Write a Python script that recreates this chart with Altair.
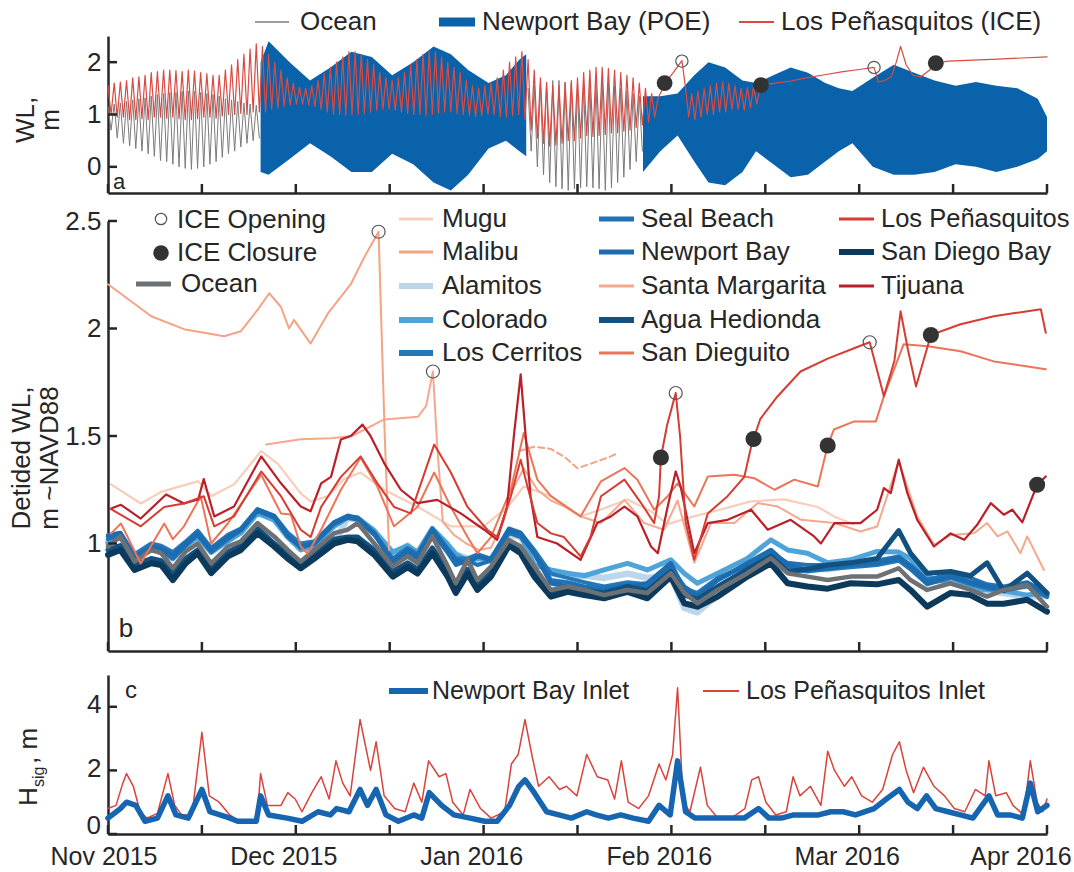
import altair as alt
import pandas as pd

FONT = "Liberation Sans"
INK = "#262626"
W = 939
HA, HB, HC = 157, 430, 159

# ---------------- shared time axis (days since 1 Nov 2015) ----------------
TICK_DAYS = [0, 15.2, 30.4, 45.6, 60.8, 76.0, 91.2, 106.4, 121.6, 136.8, 152]
MONTH_DAYS = [0, 30.4, 60.8, 91.2, 121.6, 152]
MONTH_LABELS = ["Nov 2015", "Dec 2015", "Jan 2016", "Feb 2016", "Mar 2016", "Apr 2016"]

# ---------------- panel a : raw water levels ----------------
OCEAN_A1_DAYS = list(range(0, 25))
OCEAN_A1_HI = [1.15, 1.2, 1.22, 1.25, 1.28, 1.3, 1.32, 1.35, 1.38, 1.4, 1.42, 1.42, 1.44,
               1.45, 1.44, 1.42, 1.4, 1.38, 1.35, 1.3, 1.28, 1.25, 1.22, 1.2, 1.18]
OCEAN_A1_LO = [0.7, 0.55, 0.45, 0.4, 0.35, 0.3, 0.25, 0.2, 0.12, 0.1, 0.05, 0.0, -0.03,
               -0.05, -0.03, 0.0, 0.05, 0.1, 0.18, 0.25, 0.3, 0.38, 0.45, 0.5, 0.55]
OCEAN_A2_DAYS = list(range(68, 87))
OCEAN_A2_HI = [1.5, 1.55, 1.6, 1.62, 1.65, 1.65, 1.62, 1.6, 1.55, 1.55, 1.58, 1.6, 1.62,
               1.6, 1.55, 1.5, 1.45, 1.4, 1.35]
OCEAN_A2_LO = [0.3, 0.0, -0.15, -0.3, -0.38, -0.42, -0.45, -0.42, -0.4, -0.38, -0.4, -0.42,
               -0.45, -0.4, -0.3, -0.2, -0.05, 0.1, 0.3]

NB_A1_DAYS = [24.7, 26.0, 29.4, 32.7, 36.0, 39.4, 42.7, 46.0, 49.4, 52.7, 55.5, 58.3, 61.6, 64.4, 66.6, 67.7]
NB_A1_HI = [2.0, 2.4, 2.0, 1.65, 1.9, 2.2, 2.1, 1.75, 2.0, 2.3, 2.15, 1.85, 1.6, 1.75, 2.05, 2.15]
NB_A1_LO = [-0.1, -0.15, 0.15, 0.45, 0.2, -0.1, -0.1, 0.25, 0.05, -0.3, -0.45, -0.15, 0.35, 0.5, 0.3, 0.2]
NB_A2_DAYS = [86.6, 89.4, 92.2, 94.9, 97.2, 99.9, 102.7, 104.9, 107.7, 110.5, 113.3, 116.1,
              118.3, 120.5, 123.8, 127.2, 130.5, 133.8, 137.2, 140.5, 143.8, 147.2, 150.5, 152]
NB_A2_HI = [1.35, 1.35, 1.4, 1.75, 2.0, 1.9, 1.65, 1.6, 1.75, 1.9, 1.8, 1.6, 1.5, 1.45, 1.7,
            1.95, 1.8, 1.65, 1.55, 1.62, 1.55, 1.5, 1.3, 0.95]
NB_A2_LO = [-0.1, 0.3, 0.6, 0.1, -0.3, -0.35, -0.1, 0.3, 0.05, -0.2, -0.15, 0.1, 0.3, 0.45,
            0.0, -0.15, -0.15, -0.1, 0.05, 0.0, -0.1, 0.0, 0.15, 0.3]

LP_A_OSC1_DAYS = list(range(0, 89))
LP_A_OSC1_HI = [1.55, 1.6, 1.62, 1.65, 1.7, 1.72, 1.75, 1.8, 1.82, 1.85,
                1.85, 1.84, 1.82, 1.85, 1.83, 1.8, 1.78, 1.75, 1.75, 1.85,
                1.95, 2.05, 2.15, 2.25, 2.35, 2.3, 2.15, 2.0, 1.85, 1.7,
                1.6, 1.52, 1.5, 1.55, 1.65, 1.78, 1.9, 2.0, 2.1, 2.2,
                2.2, 2.15, 2.05, 1.95, 1.8, 1.7, 1.65, 1.7, 1.8, 1.95,
                2.05, 2.15, 2.2, 2.2, 2.1, 2.0, 1.9, 1.8, 1.65, 1.55,
                1.5, 1.55, 1.6, 1.7, 1.85, 2.0, 2.1, 2.2, 2.05, 1.85,
                1.7, 1.6, 1.55, 1.55, 1.6, 1.65, 1.7, 1.8, 1.85, 1.9,
                1.9, 1.88, 1.85, 1.8, 1.75, 1.7, 1.6, 1.5, 1.4]
LP_A_OSC1_LO = [1.0, 0.95, 0.95, 0.9, 0.9, 0.92, 0.9, 0.95, 0.95, 0.93,
                0.95, 0.92, 0.9, 0.9, 0.92, 0.95, 0.95, 0.93, 0.97, 1.0,
                1.0, 1.02, 1.0, 1.05, 1.05, 1.05, 1.1, 1.12, 1.15, 1.18,
                1.2, 1.2, 1.18, 1.15, 1.1, 1.05, 1.0, 1.0, 0.98, 1.0,
                1.0, 1.02, 1.05, 1.08, 1.1, 1.1, 1.08, 1.05, 1.02, 1.0,
                1.0, 0.98, 1.0, 1.02, 1.05, 1.05, 1.02, 1.0, 0.98, 0.96,
                0.98, 1.0, 1.0, 0.96, 0.95, 0.98, 1.0, 0.9, 0.7, 0.55,
                0.45, 0.4, 0.42, 0.45, 0.5, 0.5, 0.55, 0.6, 0.58, 0.6,
                0.62, 0.65, 0.65, 0.68, 0.7, 0.75, 0.8, 0.85, 0.95]
LP_A_SPIKE_DAYS = [89, 89.6, 90.1, 91.5, 92.9, 93.5, 94.0]
LP_A_SPIKE_VALS = [1.3, 1.45, 1.6, 1.8, 2.03, 1.5, 0.95]
LP_A_OSC2_DAYS = [94.5, 95.5, 96.5, 97.5, 98.5, 99.5, 100.5, 101.5, 102.5, 103.5, 104.5]
LP_A_OSC2_HI = [1.4, 1.45, 1.5, 1.55, 1.6, 1.62, 1.6, 1.55, 1.5, 1.52, 1.55]
LP_A_OSC2_LO = [0.9, 0.95, 1.0, 1.0, 1.05, 1.05, 1.1, 1.1, 1.08, 1.12, 1.2]
LP_A_SMOOTH_DAYS = [105.7, 108, 110.5, 113, 116, 119, 121.6, 124.0, 124.7, 125.7, 126.8, 127.6,
                    128.3, 129.2, 130.3, 131.6, 133, 134, 136, 140, 144, 148, 152]
LP_A_SMOOTH_VALS = [1.56, 1.6, 1.64, 1.7, 1.76, 1.82, 1.86, 1.9, 1.62, 1.65, 1.72, 2.0,
                    2.3, 1.95, 1.75, 1.72, 1.85, 1.98, 2.02, 2.04, 2.06, 2.08, 2.1]
A_OPEN_DAYS = [92.9, 124.0]
A_OPEN_VALS = [2.02, 1.9]
A_CLOSE_DAYS = [90.1, 105.7, 134.0]
A_CLOSE_VALS = [1.6, 1.56, 1.98]

# ---------------- panel b : detided water levels ----------------
G = [0, 2, 4.3, 7, 8.6, 10.5, 12.6, 14.5, 16.7, 19.4,
     21.5, 24.2, 26.9, 29.1, 31.2, 33.4, 36.6, 38.8, 40.4, 43.1,
     46.1, 48.5, 50.1, 52.5, 54.9, 56.3, 58.2, 59.8, 62, 64.9,
     66.8, 69, 71.7, 74.4, 77.1, 80.3, 84.1, 87.3, 91.1, 93.3,
     95.4, 98.7, 103.5, 107.3, 110, 113.2, 116.5, 120.2, 124.5, 128,
     129.9, 132.6, 136.4, 139.6, 142.3, 145, 148.8, 152]
OCEAN_B = [0.986, 1.033, 0.916, 0.97, 0.955, 0.885, 0.963, 1.0, 0.908, 0.986,
           1.01, 1.095, 1.033, 0.97, 0.916, 0.97, 1.048, 1.064, 1.095, 1.0,
           0.893, 0.94, 0.908, 1.033, 0.9, 0.815, 0.924, 0.83, 0.893, 1.017,
           0.986, 0.893, 0.784, 0.8, 0.784, 0.76, 0.784, 0.77, 0.862, 0.77,
           0.722, 0.784, 0.862, 0.932, 0.862, 0.846, 0.83, 0.846, 0.846, 0.885,
           0.83, 0.784, 0.815, 0.784, 0.753, 0.784, 0.807, 0.706]
SAN_DIEGO_BAY = [0.947, 0.97, 0.877, 0.908, 0.9, 0.83, 0.908, 0.955, 0.862, 0.94,
                 0.97, 1.048, 0.986, 0.93, 0.885, 0.93, 1.0, 1.017, 1.01, 0.947,
                 0.846, 0.89, 0.86, 0.955, 0.85, 0.77, 0.86, 0.784, 0.846, 0.99,
                 0.955, 0.846, 0.753, 0.775, 0.76, 0.745, 0.775, 0.745, 0.846, 0.722,
                 0.706, 0.753, 0.846, 0.908, 0.815, 0.8, 0.79, 0.815, 0.81, 0.83,
                 0.784, 0.706, 0.77, 0.76, 0.72, 0.72, 0.738, 0.683]
NEWPORT_BAY = [1.033, 1.048, 0.93, 0.986, 0.975, 0.947, 1.0, 1.048, 0.97, 1.03,
               1.064, 1.157, 1.126, 1.033, 0.986, 1.0, 1.095, 1.126, 1.118, 1.048,
               0.908, 0.97, 0.94, 1.064, 0.97, 0.92, 0.908, 0.94, 0.924, 1.064,
               1.048, 0.955, 0.815, 0.8, 0.784, 0.775, 0.8, 0.815, 0.908, 0.784,
               0.753, 0.83, 0.908, 0.97, 0.9, 0.877, 0.885, 0.9, 0.908, 0.93,
               0.893, 0.815, 0.846, 0.82, 0.8, 0.784, 0.815, 0.76]
SEAL_BEACH = [1.02, 1.04, 0.94, 0.98, 0.97, 0.93, 0.99, 1.04, 0.96, 1.02,
              1.06, 1.15, 1.12, 1.04, 0.98, 1.0, 1.09, 1.12, 1.11, 1.04,
              0.92, 0.96, 0.93, 1.05, 0.96, 0.9, 0.92, 0.9, 0.92, 1.05,
              1.03, 0.96, 0.83, 0.82, 0.8, 0.79, 0.81, 0.8, 0.89, 0.8,
              0.76, 0.83, 0.9, 0.96, 0.91, 0.9, 0.9, 0.91, 0.92, 0.94,
              0.9, 0.83, 0.86, 0.84, 0.81, 0.8, 0.82, 0.77]
LOS_CERRITOS = [1.04, 1.05, 0.95, 1.0, 0.99, 0.96, 1.01, 1.06, 0.98, 1.04,
                1.07, 1.16, 1.13, 1.05, 1.0, 1.01, 1.1, 1.13, 1.12, 1.05,
                0.93, 0.98, 0.95, 1.07, 0.98, 0.93, 0.93, 0.95, 0.93, 1.07,
                1.05, 0.97, 0.86, 0.84, 0.82, 0.8, 0.82, 0.81, 0.9, 0.79,
                0.77, 0.84, 0.9, 0.95, 0.88, 0.87, 0.88, 0.89, 0.9, 0.92,
                0.88, 0.81, 0.84, 0.81, 0.79, 0.78, 0.8, 0.75]
COLORADO = [1.0, 1.03, 0.93, 0.97, 0.96, 0.93, 0.99, 1.03, 0.96, 1.01,
            1.05, 1.14, 1.11, 1.03, 0.97, 0.99, 1.08, 1.12, 1.12, 1.06,
            0.96, 0.99, 0.96, 1.07, 1.0, 0.95, 0.92, 0.93, 0.93, 1.05,
            1.04, 0.9, 0.877, 0.862, 0.85, 0.877, 0.908, 0.877, 0.924, 0.86,
            0.815, 0.862, 0.93, 1.017, 0.97, 0.955, 0.91, 0.924, 0.963, 0.96,
            0.93, 0.846, 0.815, 0.79, 0.785, 0.78, 0.76, 0.77]
ALAMITOS = [1.01, 1.03, 0.93, 0.98, 0.96, 0.93, 0.99, 1.03, 0.96, 1.02,
            1.05, 1.15, 1.11, 1.03, 0.98, 0.98, 1.0, 1.12, 1.11, 1.05,
            0.94, 0.99, 0.95, 1.06, 0.99, 0.95, 0.93, 0.92, 0.92, 1.04,
            1.03, 0.93, 0.86, 0.85, 0.85, 0.84, 0.86, 0.84, 0.85, 0.7,
            0.68, 0.76, 0.85, 0.95, 0.9, 0.89, 0.88, 0.9, 0.92, 0.93,
            0.9, 0.83, 0.82, 0.8, 0.78, 0.77, 0.75, 0.76]
AGUA_HEDIONDA = [0.97, 0.99, 0.9, 0.93, 0.92, 0.86, 0.93, 0.97, 0.88, 0.96,
                 0.99, 1.07, 1.0, 0.95, 0.9, 0.95, 1.02, 1.03, 1.03, 0.97,
                 0.87, 0.91, 0.88, 0.98, 0.88, 0.8, 0.88, 0.81, 0.87, 1.0,
                 0.97, 0.87, 0.78, 0.79, 0.78, 0.77, 0.8, 0.78, 0.87, 0.76,
                 0.74, 0.8, 0.88, 0.94, 0.87, 0.88, 0.9, 0.91, 0.93, 1.06,
                 0.955, 0.862, 0.87, 0.85, 0.91, 0.78, 0.862, 0.77]

MUGU_DAYS = [0.5, 5.3, 8.6, 14.6, 16.7, 20.4, 24.8, 27.5, 31.2, 32.8, 35.6, 38.2, 40.9, 44.7,
             50.2, 55.5, 60.8, 64.7, 67.3, 71.7, 76.5, 79.8, 84.1, 87.9, 90.6, 94.8, 99.2,
             104, 109.4, 114.9, 117.5, 120.7]
MUGU_VALS = [1.275, 1.186, 1.24, 1.29, 1.22, 1.275, 1.43, 1.37, 1.233, 1.196, 1.22, 1.3, 1.33,
             1.25, 1.17, 1.08, 1.08, 1.17, 1.265, 1.22, 1.126, 1.158, 1.205, 1.15, 1.09, 1.126,
             1.158, 1.196, 1.205, 1.17, 1.126, 1.09]
MALIBU_DAYS = [0, 7, 12.3, 18.8, 21.5, 24.3, 26.1, 28, 29.3, 30.1, 32.8, 35.6, 39.3, 41.4, 43.8, 44.8, 45.5]
MALIBU_VALS = [2.206, 2.057, 1.997, 1.964, 1.987, 2.09, 2.164, 2.10, 2.0, 2.04, 1.93, 2.07, 2.206,
               2.327, 2.45, 1.5, 0.97]
MALIBU_GAP_DAYS = [66.5, 69, 71.7, 74, 76, 78, 80, 81.4, 82.5]
MALIBU_GAP_VALS = [1.43, 1.45, 1.44, 1.40, 1.35, 1.37, 1.39, 1.405, 1.42]
SANTA_MARG_DAYS = [25.6, 31.2, 36.1, 39.5, 44.7, 50.2, 51.5, 52.6, 53.3, 54.2,
                   56, 58, 60, 62, 64, 65.5, 67.3, 69.5, 71.7, 74,
                   76.5, 79.8, 83.6, 86.8, 90, 92.2, 94.9, 97.6, 101.4, 105.2,
                   108.4, 112.2, 117.6, 121.8, 124.5, 128, 131, 133.7, 136.4, 140.2,
                   142.3, 144, 145.6, 147.7, 148.8, 151.5]
SANTA_MARG_VALS = [1.46, 1.485, 1.49, 1.50, 1.577, 1.59, 1.64, 1.80, 1.45, 1.1,
                   1.04, 1.0, 0.97, 0.98, 1.1, 1.25, 1.35, 1.25, 1.2, 1.17,
                   1.126, 1.095, 1.203, 1.095, 1.064, 1.2, 0.91, 1.095, 1.095, 1.188,
                   1.172, 1.11, 1.095, 1.056, 1.079, 1.382, 1.126, 0.994, 1.04, 1.048,
                   1.095, 1.033, 1.056, 0.955, 1.033, 0.877]
SAN_DIEGUITO_DAYS = [0.5, 2.1, 5.3, 9.1, 10.5, 12.3, 15, 16.7, 19.4, 24.8,
                     28, 29.6, 31.2, 32.3, 34.5, 37.7, 40.9, 43.6, 46.3, 50.1,
                     52.8, 55.5, 58.2, 59.8, 62, 65.2, 67.3, 69.5, 71.7, 76.5,
                     79.8, 83.6, 85.7, 88.4, 90.6, 92.2, 94.9, 97.1, 101.4, 104.6,
                     107.9, 111.1, 114.9, 116.5, 117.5, 120.8, 124.3, 125.6, 128.8, 132.7,
                     138, 143.4, 151.8]
SAN_DIEGUITO_VALS = [1.047, 1.093, 0.907, 1.093, 1.02, 1.08, 1.22, 1.0, 1.093, 1.32,
                     1.14, 1.135, 0.986, 0.953, 1.064, 1.25, 1.40, 1.265, 1.08, 1.17,
                     1.33, 1.17, 1.03, 0.955, 1.03, 1.25, 1.514, 1.297, 1.22, 1.126,
                     1.289, 1.351, 1.297, 1.157, 1.22, 1.28, 1.172, 1.312, 1.32, 1.304,
                     1.25, 1.297, 1.265, 1.456, 1.53, 1.568, 1.568, 1.685, 1.927, 1.917,
                     1.894, 1.847, 1.81]
LOS_PEN_DAYS = [0.5, 5.3, 9.1, 12.3, 15.5, 17.2, 20.4, 24.8, 28, 31.2,
                32.8, 34.5, 37.7, 40.9, 43.6, 46.3, 49, 52.8, 55.5, 58.2,
                61.4, 63, 65.2, 66.8, 67.9, 69.5, 71.7, 73.8, 76.5, 78.1,
                79.8, 83.6, 86.3, 88.4, 89.2, 89.5, 90.5, 91.9, 92.6, 93.5,
                94.9, 97.1, 100.3, 103, 104.1, 104.5, 105.6, 108.4, 112.1, 116.5,
                121.8, 123.3, 125.6, 127.3, 128.3, 129.5, 130.8, 132, 133.2, 138,
                143.4, 151, 151.8]
LOS_PEN_VALS = [1.16, 1.08, 1.17, 1.186, 1.22, 1.08, 1.126, 1.335, 1.22, 1.064,
                1.03, 1.17, 1.31, 1.405, 1.28, 1.17, 1.14, 1.46, 1.33, 1.17,
                1.064, 1.03, 1.22, 1.39, 1.265, 1.095, 1.047, 1.03, 0.94, 1.03,
                1.22, 1.297, 1.188, 1.095, 1.22, 1.40, 1.55, 1.70, 1.5, 1.1,
                0.924, 1.14, 1.22, 1.31, 1.45, 1.486, 1.58, 1.685, 1.80, 1.86,
                1.92, 1.936, 1.685, 1.85, 2.08, 1.9, 1.73, 1.85, 1.97, 2.02,
                2.057, 2.09, 1.98]
TIJUANA_DAYS = [0.5, 2.1, 5.3, 9.4, 12.3, 14.6, 15.5, 17.2, 20.4, 24.8,
                28, 31.2, 32.8, 34.5, 36.1, 37.7, 39.3, 41.2, 42.5, 44.7,
                47.4, 50.1, 53.3, 57.1, 60.9, 63, 64.6, 65.7, 66.8, 68.4,
                69.5, 72.7, 76.5, 79.2, 81.4, 83.6, 85.7, 87.9, 89, 90.6,
                91.9, 92.7, 94.9, 97.1, 100.3, 104.1, 106.8, 110.5, 114.3, 115.4,
                117.6, 121.8, 124.5, 125.6, 126.7, 128, 129.4, 131, 133.7, 136.4,
                138.6, 140.7, 142.9, 145, 146.4, 148, 150.4, 151.8]
TIJUANA_VALS = [1.163, 1.18, 1.116, 1.228, 1.186, 1.205, 1.30, 1.126, 1.172, 1.405,
                1.28, 1.172, 1.15, 1.28, 1.31, 1.484, 1.50, 1.553, 1.50, 1.374,
                1.25, 1.188, 1.203, 1.14, 1.064, 1.017, 1.172, 1.5, 1.787, 1.22,
                1.03, 1.0, 0.924, 1.095, 1.126, 1.172, 1.126, 0.986, 0.955, 1.172,
                1.335, 1.265, 0.955, 1.095, 1.11, 1.157, 1.064, 1.11, 1.033, 1.0,
                1.095, 1.095, 1.157, 1.258, 1.234, 1.39, 1.234, 1.11, 0.986, 1.047,
                1.017, 1.087, 1.188, 1.134, 1.157, 1.098, 1.273, 1.312]
B_OPEN_DAYS = [43.8, 52.6, 91.9, 123.3]
B_OPEN_VALS = [2.45, 1.80, 1.70, 1.936]
B_CLOSE_DAYS = [89.5, 104.5, 116.5, 133.2, 150.4]
B_CLOSE_VALS = [1.40, 1.486, 1.456, 1.97, 1.273]

# ---------------- panel c : significant wave height ----------------
LPI_DAYS = [0, 1.3, 2.4, 3, 4.1, 5.2, 6.3, 8, 9.7, 10.8,
            11.9, 13.6, 15.2, 16.4, 18, 19.7, 21.4, 24.1, 24.7, 25.8,
            28, 29.1, 30.3, 31.4, 33, 34.5, 35.8, 36.9, 38, 39.2,
            40.8, 42.5, 43.4, 44.7, 46.4, 48.1, 49.5, 50.8, 51.9, 53.6,
            54.7, 55.8, 57.5, 58.6, 60.3, 62, 64.2, 65.3, 66.4, 67.5,
            68.6, 69.7, 71.4, 73.1, 74.2, 75.9, 77.5, 79.2, 80.9, 82,
            83.1, 84.2, 85.9, 87.5, 89.2, 90.3, 91.4, 92.2, 93.1, 94.2,
            95.9, 97, 98.7, 100.9, 103.1, 104.2, 105.3, 106.5, 108.1, 109.8,
            110.9, 112, 113.7, 115.4, 116.5, 117.6, 119.2, 120.4, 122, 123.7,
            125.4, 127, 128.1, 129.2, 130.4, 132, 133.7, 135.4, 137, 138.7,
            140.4, 142, 142.6, 143.7, 145.4, 146.5, 148.2, 149.3, 150.4, 151.3,
            152]
LPI_VALS = [0.8, 0.9, 1.6, 1.9, 1.5, 0.7, 0.5, 0.65, 1.9, 0.9,
            0.6, 0.6, 3.2, 1.2, 1.0, 0.6, 0.4, 0.4, 1.9, 0.9,
            0.9, 1.3, 1.1, 0.7, 1.3, 1.8, 1.1, 2.3, 1.6, 1.2,
            3.6, 2.0, 2.9, 1.2, 0.8, 0.7, 1.6, 1.0, 2.3, 1.8,
            1.9, 1.0, 0.6, 1.4, 0.8, 0.5, 0.7, 2.2, 2.5, 3.6,
            2.5, 1.5, 1.8, 1.4, 1.5, 1.2, 2.5, 1.8, 1.7, 1.1,
            2.3, 1.0, 0.8, 1.2, 2.2, 1.7, 2.5, 4.6, 1.0, 0.7,
            2.1, 0.9, 0.5, 0.5, 0.8, 1.7, 1.8, 1.0, 0.6, 0.7,
            1.8, 1.2, 1.5, 0.9, 2.6, 2.0, 1.5, 1.8, 1.2, 1.0,
            1.4, 2.5, 2.9, 2.0, 1.3, 2.1, 1.5, 1.2, 0.8, 0.7,
            1.4, 1.2, 2.3, 1.2, 1.3, 0.9, 0.6, 2.3, 1.0, 0.7,
            1.1]
NBI_DAYS = [0, 2, 3, 4.5, 6, 8, 9.7, 11, 13, 15.2,
            16.5, 19, 21, 24, 24.7, 26, 29, 31.4, 34, 36,
            37, 39, 40.8, 42, 43.4, 45, 47, 49.5, 50.8, 52,
            54, 56, 58.6, 61, 63, 65, 66.5, 67.5, 69, 71,
            73, 75, 77.5, 79, 81, 83, 85, 87.5, 89.2, 91,
            92.2, 93.5, 95, 97, 100, 103, 105.3, 107, 109, 111,
            113, 115, 117, 119, 121, 124, 126, 128.1, 129.5, 131,
            132.5, 134, 136, 138, 140, 142.6, 144, 146, 148, 149.3,
            150.5, 152]
NBI_VALS = [0.5, 0.8, 1.0, 0.9, 0.4, 0.5, 1.2, 0.6, 0.5, 1.4,
            0.7, 0.55, 0.4, 0.4, 1.2, 0.6, 0.5, 0.4, 0.7, 0.6,
            0.8, 0.7, 1.4, 0.9, 1.4, 0.6, 0.4, 0.6, 0.5, 1.3,
            0.9, 0.6, 0.5, 0.4, 0.4, 0.9, 1.5, 1.7, 1.3, 0.7,
            0.6, 0.5, 0.7, 0.6, 0.5, 0.6, 0.5, 0.4, 0.9, 0.6,
            2.3, 0.7, 0.5, 0.5, 0.5, 0.5, 0.8, 0.5, 0.5, 0.6,
            0.6, 0.6, 0.7, 0.7, 0.6, 0.8, 1.1, 1.4, 1.0, 0.8,
            1.2, 0.8, 0.7, 0.6, 0.5, 1.2, 0.6, 0.6, 0.5, 1.6,
            0.7, 0.9]

# ---------------- styles ----------------
C = {
    "Mugu": "#f8cdb9", "Malibu": "#f4a384", "Alamitos": "#bcd7ec", "Colorado": "#4ea3d9",
    "Los Cerritos": "#2478b8", "Seal Beach": "#2171b5", "Newport Bay": "#1c6cb0",
    "Santa Margarita": "#f5a88c", "Agua Hedionda": "#11507f", "San Dieguito": "#ec7558",
    "Los Peñasquitos": "#d73b32", "San Diego Bay": "#0c3a5c", "Tijuana": "#bb2029",
    "Ocean": "#6d7174",
}

XS = alt.Scale(domain=[0, 152], nice=False, zero=False)
YA = alt.Scale(domain=[-0.5, 2.5], nice=False, zero=False)
YB = alt.Scale(domain=[0.5, 2.5], nice=False, zero=False)
YC = alt.Scale(domain=[0, 5], nice=False, zero=False)
AX_X = alt.Axis(title=None, labels=False, ticks=False, grid=False, domain=True)
YVALS_A, YVALS_B, YVALS_C = [0, 1, 2], [1, 1.5, 2, 2.5], [0, 2, 4]
YLABS_C = [2, 4]   # "0" of panel c is written separately, lifted clear of "Nov 2015"


def ax_y(vals, offset=0):
    return alt.Axis(title=None, values=vals, ticks=False, grid=False, labelPadding=7,
                    format="~g", labelOffset=offset)


def xenc(field="day"):
    return alt.X(f"{field}:Q", scale=XS, axis=AX_X)


def yenc(field, sc, vals):
    if sc is YC:
        return alt.Y(f"{field}:Q", scale=sc, axis=ax_y(YLABS_C, -2))
    return alt.Y(f"{field}:Q", scale=sc, axis=ax_y(vals))


ONE = pd.DataFrame({"k": [0]})


def line(days, vals, color, width, sc, yv, dash=None, seg=None):
    assert len(days) == len(vals), (len(days), len(vals), color)
    df = pd.DataFrame({"day": days, "val": vals})
    kw = dict(color=color, strokeWidth=width, strokeCap="round", strokeJoin="round")
    if dash:
        kw["strokeDash"] = dash
    enc = dict(x=xenc(), y=yenc("val", sc, yv))
    if seg is not None:
        df["seg"] = seg
        enc["detail"] = "seg:N"
    return alt.Chart(df).mark_line(**kw).encode(**enc)


def zigzag(days, hi, lo):
    assert len(days) == len(hi) == len(lo)
    d_out, v_out = [], []
    for d, h, l in zip(days, hi, lo):
        d_out += [d, d + 0.5]
        v_out += [h, l]
    return d_out, v_out


def ticks(sc, yv, height):
    xt = alt.Chart(pd.DataFrame({"d": TICK_DAYS})).mark_rule(color=INK, strokeWidth=2.5).encode(
        x=xenc("d"), y=alt.value(height), y2=alt.value(height - 9))
    yt = alt.Chart(pd.DataFrame({"v": yv})).mark_rule(color=INK, strokeWidth=2.5).encode(
        y=yenc("v", sc, yv), x=alt.value(0), x2=alt.value(9))
    return [xt, yt]


def legend(entries, y_list, size=26):
    df = pd.DataFrame(entries, columns=["label", "color", "w", "x1", "x2", "tx"])
    df["y"] = y_list
    lines = alt.Chart(df).mark_rule().encode(
        x=alt.X("x1:Q", scale=None, axis=None), x2="x2:Q",
        y=alt.Y("y:Q", scale=None, axis=None),
        color=alt.Color("color:N", scale=None, legend=None),
        strokeWidth=alt.StrokeWidth("w:Q", scale=None, legend=None))
    texts = alt.Chart(df).mark_text(align="left", baseline="middle", font=FONT, fontSize=size,
                                    color=INK).encode(
        x=alt.X("tx:Q", scale=None, axis=None), y=alt.Y("y:Q", scale=None, axis=None),
        text="label:N")
    return [lines, texts]


def label(txt, x, y, size=26, angle=0, align="center"):
    return alt.Chart(ONE).mark_text(text=txt, font=FONT, fontSize=size, color=INK, angle=angle,
                                    align=align, baseline="middle").encode(
        x=alt.value(x), y=alt.value(y))


# ================= panel a =================
g1d, g1v = zigzag(OCEAN_A1_DAYS, OCEAN_A1_HI, OCEAN_A1_LO)
g2d, g2v = zigzag(OCEAN_A2_DAYS, OCEAN_A2_HI, OCEAN_A2_LO)
ocean_a = line(g1d + g2d, g1v + g2v, "#7b7b7b", 1, YA, YVALS_A, seg=[1] * len(g1d) + [2] * len(g2d))

nb_df = pd.DataFrame({
    "day": NB_A1_DAYS + NB_A2_DAYS, "lo": NB_A1_LO + NB_A2_LO, "hi": NB_A1_HI + NB_A2_HI,
    "seg": [1] * len(NB_A1_DAYS) + [2] * len(NB_A2_DAYS)})
nb_a = alt.Chart(nb_df).mark_area(color="#0a62ab", opacity=1).encode(
    x=xenc(), y=yenc("lo", YA, YVALS_A), y2="hi:Q", detail="seg:N")

r1d, r1v = zigzag(LP_A_OSC1_DAYS, LP_A_OSC1_HI, LP_A_OSC1_LO)
r2d, r2v = zigzag(LP_A_OSC2_DAYS, LP_A_OSC2_HI, LP_A_OSC2_LO)
lp_a = line(r1d + LP_A_SPIKE_DAYS + r2d + LP_A_SMOOTH_DAYS,
            r1v + LP_A_SPIKE_VALS + r2v + LP_A_SMOOTH_VALS, "#da4a42", 1.2, YA, YVALS_A)

close_a = alt.Chart(pd.DataFrame({"day": A_CLOSE_DAYS, "val": A_CLOSE_VALS})).mark_circle(
    size=250, color="#333333", opacity=1).encode(x=xenc(), y=yenc("val", YA, YVALS_A))
open_a = alt.Chart(pd.DataFrame({"day": A_OPEN_DAYS, "val": A_OPEN_VALS})).mark_point(
    shape="circle", filled=False, size=150, color="#555555", strokeWidth=1.2, opacity=1).encode(
    x=xenc(), y=yenc("val", YA, YVALS_A))

leg_a = legend([("Ocean", "#7b7b7b", 1.5, 147, 181, 192),
                ("Newport Bay (POE)", "#0a62ab", 9, 331, 367, 374),
                ("Los Peñasquitos (ICE)", "#da4a42", 2, 631, 666, 673)], [-14, -14, -14])

panel_a = alt.layer(
    ocean_a, nb_a, lp_a, close_a, open_a, *ticks(YA, YVALS_A, HA), *leg_a,
    label("a", 11, 146, size=22),
    label("WL,", -82, 84, angle=270),
    label("m", -57, 84, angle=270),
).properties(width=W, height=HA)

# ================= panel b =================
blue_order = [("Alamitos", ALAMITOS, 6.5), ("Colorado", COLORADO, 5), ("Los Cerritos", LOS_CERRITOS, 4),
              ("Seal Beach", SEAL_BEACH, 4), ("Newport Bay", NEWPORT_BAY, 4.5),
              ("Agua Hedionda", AGUA_HEDIONDA, 5), ("San Diego Bay", SAN_DIEGO_BAY, 6),
              ("Ocean", OCEAN_B, 4.5)]
layers_b = [line(G, v, C[n], w, YB, YVALS_B) for n, v, w in blue_order]
layers_b += [
    line(MUGU_DAYS, MUGU_VALS, C["Mugu"], 2.2, YB, YVALS_B),
    line(MALIBU_DAYS, MALIBU_VALS, C["Malibu"], 2, YB, YVALS_B),
    line(MALIBU_GAP_DAYS, MALIBU_GAP_VALS, C["Malibu"], 2, YB, YVALS_B, dash=[6, 4]),
    line(SANTA_MARG_DAYS, SANTA_MARG_VALS, C["Santa Margarita"], 2, YB, YVALS_B),
    line(SAN_DIEGUITO_DAYS, SAN_DIEGUITO_VALS, C["San Dieguito"], 2, YB, YVALS_B),
    line(TIJUANA_DAYS, TIJUANA_VALS, C["Tijuana"], 2.2, YB, YVALS_B),
    line(LOS_PEN_DAYS, LOS_PEN_VALS, C["Los Peñasquitos"], 2, YB, YVALS_B),
]
close_b = alt.Chart(pd.DataFrame({"day": B_CLOSE_DAYS, "val": B_CLOSE_VALS})).mark_circle(
    size=260, color="#333333", opacity=1).encode(x=xenc(), y=yenc("val", YB, YVALS_B))
open_b = alt.Chart(pd.DataFrame({"day": B_OPEN_DAYS, "val": B_OPEN_VALS})).mark_point(
    shape="circle", filled=False, size=170, color="#555555", strokeWidth=1.2, opacity=1).encode(
    x=xenc(), y=yenc("val", YB, YVALS_B))

ROWS = [-2, 31, 65, 99, 132]
col2 = [(n, C[n], w, 291, 325, 334) for n, w in
        [("Mugu", 3), ("Malibu", 3), ("Alamitos", 6), ("Colorado", 6), ("Los Cerritos", 6)]]
col3 = [(n, C[n], w, 491, 526, 533) for n, w in
        [("Seal Beach", 5), ("Newport Bay", 5), ("Santa Margarita", 3), ("Agua Hedionda", 6),
         ("San Dieguito", 3)]]
col4 = [(n, C[n], w, 731, 766, 773) for n, w in
        [("Los Peñasquitos", 3), ("San Diego Bay", 6), ("Tijuana", 3)]]
col1 = [("Ocean", C["Ocean"], 5, 28, 63, 73)]
leg_b = (legend(col2, ROWS) + legend(col3, ROWS) + legend(col4, ROWS[:3], size=25.5)
         + legend(col1, [63]))
sym_b = [
    alt.Chart(ONE).mark_point(shape="circle", filled=False, size=130, color="#555555",
                              strokeWidth=1.2, opacity=1).encode(x=alt.value(53), y=alt.value(-2)),
    alt.Chart(ONE).mark_circle(size=240, color="#333333", opacity=1).encode(
        x=alt.value(53), y=alt.value(32)),
    label("ICE Opening", 69, -1, align="left"),
    label("ICE Closure", 69, 32, align="left"),
]

panel_b = alt.layer(
    *layers_b, close_b, open_b, *ticks(YB, YVALS_B, HB), *leg_b, *sym_b,
    label("b", 18, 408, size=26),
    label("Detided WL,", -86, 237, angle=270),
    label("m ~NAVD88", -58, 237, angle=270),
).properties(width=W, height=HB)

# ================= panel c =================
lpi = line(LPI_DAYS, LPI_VALS, "#d9433c", 1.5, YC, YVALS_C)
nbi = line(NBI_DAYS, NBI_VALS, "#1565b0", 5.5, YC, YVALS_C)
leg_c = legend([("Newport Bay Inlet", "#1565b0", 6, 281, 320, 324),
                ("Los Peñasquitos Inlet", "#d9433c", 2, 595, 631, 638)], [16, 16], size=25)

month_df = pd.DataFrame({"d": MONTH_DAYS, "lab": MONTH_LABELS, "i": list(range(len(MONTH_DAYS)))})


def month_layer(cond, dx):
    return alt.Chart(month_df).transform_filter(cond).mark_text(
        font=FONT, fontSize=25, color=INK, baseline="alphabetic", align="center", dx=dx).encode(
        x=xenc("d"), y=alt.value(HC + 31), text="lab:N")


months = [month_layer("datum.i == 0", -4),
          month_layer("datum.i > 0 && datum.i < 5", -12),
          month_layer("datum.i == 5", -26)]
spacer = alt.Chart(ONE).mark_rule(color="white", strokeWidth=1).encode(
    x=alt.value(400), y=alt.value(-10), y2=alt.value(0))
zero_c = alt.Chart(ONE).mark_text(text="0", font=FONT, fontSize=26, color=INK, align="right",
                                  baseline="middle").encode(x=alt.value(-7), y=alt.value(HC - 8))

panel_c = alt.layer(
    spacer, lpi, nbi, *ticks(YC, YVALS_C, HC), *leg_c, *months, zero_c,
    label("c", 23, 16, size=24),
    label("H", -79, 131, angle=270, align="left"),
    label("sig", -69, 112, size=16, angle=270, align="left"),
    label(", m", -79, 89, angle=270, align="left"),
).properties(width=W, height=HC)

chart = alt.vconcat(panel_a, panel_b, panel_c, spacing=11).properties(
    padding={"left": 9, "top": 9, "right": 0, "bottom": 0},
    background="white",
).configure_view(stroke=None).configure_axis(
    domainColor=INK, domainWidth=2.5, labelColor=INK, labelFont=FONT, labelFontSize=26,
    ticks=False, grid=False,
)

chart.save("out.html", embed_options={"renderer": "svg", "actions": False})
